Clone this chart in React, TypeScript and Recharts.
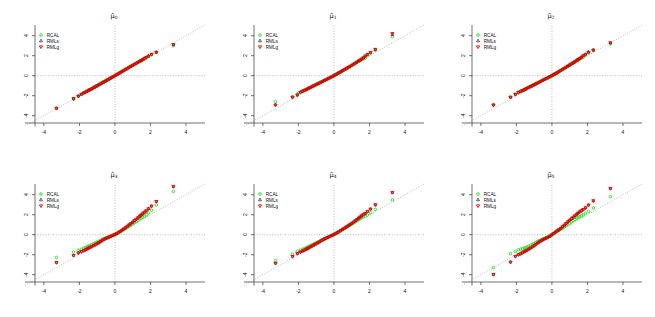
import React from "react";
import { ScatterChart, Scatter, XAxis, YAxis, ReferenceLine, Legend } from "recharts";

// theoretical normal quantiles (x of every panel)
const quantiles = [
  -3.29, -2.33, -2.06, -1.89, -1.76, -1.66, -1.56, -1.48, -1.4, -1.3, -1.2, -1.1, -1.0, -0.9, -0.8,
  -0.7, -0.6, -0.5, -0.4, -0.3, -0.2, -0.1, 0.0, 0.1, 0.2, 0.3, 0.4, 0.5, 0.6, 0.7, 0.8, 0.9, 1.0,
  1.1, 1.2, 1.3, 1.4, 1.48, 1.56, 1.66, 1.76, 1.89, 2.06, 2.33, 3.29,
];
const tickValues = [-4, -2, 0, 2, 4];
const estimators = ["RCAL", "RMLs", "RMLg"];
const subscripts = ["0", "1", "2", "3", "4", "5"];

// sample quantiles, one array per estimator and panel
const rcalMu0 = [-3.25, -2.35, -2.03, -1.85, -1.72, -1.63, -1.54, -1.46, -1.38, -1.29, -1.19, -1.09, -0.99, -0.89, -0.8, -0.7, -0.6, -0.5, -0.4, -0.3, -0.2, -0.1, 0.0, 0.1, 0.21, 0.31, 0.41, 0.52, 0.62, 0.73, 0.83, 0.93, 1.03, 1.13, 1.23, 1.33, 1.43, 1.51, 1.59, 1.69, 1.8, 1.93, 2.1, 2.32, 3.0];
const rmlsMu0 = [-3.26, -2.29, -2.05, -1.86, -1.73, -1.64, -1.55, -1.47, -1.39, -1.3, -1.2, -1.1, -1.0, -0.9, -0.8, -0.7, -0.6, -0.5, -0.4, -0.3, -0.2, -0.1, 0.0, 0.1, 0.21, 0.31, 0.42, 0.52, 0.63, 0.73, 0.84, 0.94, 1.04, 1.14, 1.24, 1.34, 1.45, 1.53, 1.62, 1.73, 1.84, 1.97, 2.14, 2.35, 3.11];
const rmlgMu0 = [-3.26, -2.28, -2.05, -1.86, -1.73, -1.64, -1.55, -1.47, -1.39, -1.3, -1.2, -1.1, -1.0, -0.9, -0.8, -0.7, -0.6, -0.5, -0.4, -0.3, -0.2, -0.1, 0.0, 0.1, 0.21, 0.31, 0.42, 0.52, 0.63, 0.73, 0.84, 0.94, 1.04, 1.14, 1.24, 1.34, 1.44, 1.52, 1.61, 1.72, 1.83, 1.96, 2.14, 2.35, 3.12];

const rcalMu1 = [-2.6, -2.08, -1.82, -1.62, -1.52, -1.44, -1.36, -1.29, -1.22, -1.13, -1.04, -0.95, -0.87, -0.78, -0.7, -0.61, -0.52, -0.44, -0.35, -0.26, -0.17, -0.08, 0.01, 0.1, 0.2, 0.3, 0.4, 0.5, 0.6, 0.7, 0.8, 0.9, 1.0, 1.11, 1.22, 1.33, 1.44, 1.52, 1.6, 1.68, 1.76, 2.02, 2.26, 2.55, 3.9];
const rmlsMu1 = [-2.92, -2.15, -1.93, -1.66, -1.55, -1.47, -1.39, -1.32, -1.25, -1.16, -1.07, -0.98, -0.89, -0.8, -0.72, -0.63, -0.54, -0.45, -0.36, -0.27, -0.18, -0.09, 0.01, 0.11, 0.21, 0.31, 0.41, 0.52, 0.62, 0.72, 0.83, 0.93, 1.04, 1.15, 1.26, 1.37, 1.48, 1.57, 1.66, 1.79, 1.96, 2.13, 2.33, 2.63, 4.1];
const rmlgMu1 = [-2.93, -2.16, -1.93, -1.66, -1.55, -1.47, -1.39, -1.32, -1.25, -1.16, -1.07, -0.98, -0.89, -0.8, -0.72, -0.63, -0.54, -0.45, -0.36, -0.27, -0.18, -0.09, 0.01, 0.11, 0.21, 0.31, 0.41, 0.52, 0.62, 0.72, 0.83, 0.93, 1.04, 1.15, 1.26, 1.37, 1.49, 1.58, 1.67, 1.8, 1.97, 2.14, 2.34, 2.64, 4.22];

const rcalMu2 = [-2.9, -2.12, -1.84, -1.64, -1.54, -1.46, -1.38, -1.31, -1.24, -1.15, -1.06, -0.98, -0.89, -0.8, -0.71, -0.62, -0.53, -0.44, -0.35, -0.26, -0.17, -0.08, 0.01, 0.1, 0.2, 0.3, 0.41, 0.51, 0.62, 0.72, 0.83, 0.93, 1.04, 1.14, 1.25, 1.36, 1.47, 1.56, 1.65, 1.75, 1.84, 2.05, 2.28, 2.52, 3.17];
const rmlsMu2 = [-2.93, -2.16, -1.87, -1.67, -1.57, -1.49, -1.41, -1.34, -1.26, -1.17, -1.08, -0.99, -0.9, -0.81, -0.72, -0.63, -0.54, -0.45, -0.36, -0.27, -0.18, -0.08, 0.01, 0.11, 0.21, 0.31, 0.42, 0.53, 0.64, 0.75, 0.86, 0.97, 1.08, 1.19, 1.3, 1.42, 1.54, 1.63, 1.72, 1.85, 2.0, 2.15, 2.4, 2.57, 3.29];
const rmlgMu2 = [-2.93, -2.16, -1.87, -1.67, -1.57, -1.49, -1.41, -1.34, -1.26, -1.17, -1.08, -0.99, -0.9, -0.81, -0.72, -0.63, -0.54, -0.45, -0.36, -0.27, -0.18, -0.08, 0.01, 0.11, 0.21, 0.31, 0.42, 0.53, 0.64, 0.75, 0.86, 0.97, 1.08, 1.19, 1.3, 1.42, 1.54, 1.63, 1.72, 1.85, 2.0, 2.14, 2.34, 2.57, 3.3];

const rcalMu3 = [-2.28, -1.74, -1.57, -1.45, -1.36, -1.28, -1.2, -1.13, -1.06, -0.98, -0.9, -0.81, -0.73, -0.64, -0.55, -0.46, -0.38, -0.31, -0.24, -0.17, -0.11, -0.05, 0.01, 0.09, 0.19, 0.29, 0.39, 0.5, 0.61, 0.72, 0.83, 0.95, 1.07, 1.19, 1.31, 1.43, 1.56, 1.65, 1.75, 1.86, 1.98, 2.17, 2.45, 2.97, 4.33];
const rmlsMu3 = [-2.78, -2.07, -1.82, -1.68, -1.58, -1.5, -1.41, -1.34, -1.27, -1.18, -1.08, -0.99, -0.89, -0.79, -0.68, -0.56, -0.46, -0.37, -0.29, -0.21, -0.14, -0.06, 0.02, 0.12, 0.23, 0.34, 0.46, 0.58, 0.71, 0.85, 0.99, 1.12, 1.26, 1.41, 1.55, 1.7, 1.86, 1.98, 2.1, 2.25, 2.4, 2.6, 2.86, 3.31, 4.8];
const rmlgMu3 = [-2.78, -2.07, -1.82, -1.68, -1.58, -1.5, -1.41, -1.34, -1.27, -1.18, -1.08, -0.99, -0.89, -0.79, -0.68, -0.56, -0.46, -0.37, -0.29, -0.21, -0.14, -0.06, 0.02, 0.12, 0.23, 0.34, 0.46, 0.58, 0.71, 0.85, 0.99, 1.12, 1.26, 1.41, 1.55, 1.7, 1.86, 1.98, 2.1, 2.25, 2.4, 2.6, 2.87, 3.33, 4.83];

const rcalMu4 = [-2.6, -1.95, -1.67, -1.55, -1.46, -1.38, -1.3, -1.23, -1.16, -1.08, -0.99, -0.9, -0.82, -0.73, -0.64, -0.55, -0.46, -0.38, -0.3, -0.22, -0.14, -0.06, 0.02, 0.11, 0.21, 0.31, 0.41, 0.52, 0.62, 0.73, 0.84, 0.95, 1.06, 1.17, 1.29, 1.4, 1.52, 1.61, 1.7, 1.79, 1.85, 1.97, 2.2, 2.53, 3.47];
const rmlsMu4 = [-2.85, -2.16, -1.88, -1.74, -1.63, -1.54, -1.45, -1.38, -1.3, -1.2, -1.1, -1.0, -0.9, -0.8, -0.7, -0.58, -0.49, -0.4, -0.31, -0.23, -0.15, -0.06, 0.02, 0.12, 0.22, 0.33, 0.44, 0.55, 0.66, 0.78, 0.89, 1.01, 1.13, 1.26, 1.39, 1.53, 1.67, 1.78, 1.9, 2.03, 2.13, 2.32, 2.56, 2.98, 4.2];
const rmlgMu4 = [-2.86, -2.17, -1.88, -1.74, -1.63, -1.54, -1.45, -1.38, -1.3, -1.2, -1.1, -1.0, -0.9, -0.8, -0.7, -0.58, -0.49, -0.4, -0.31, -0.23, -0.15, -0.06, 0.02, 0.12, 0.22, 0.33, 0.44, 0.55, 0.66, 0.78, 0.89, 1.01, 1.13, 1.26, 1.39, 1.53, 1.67, 1.78, 1.9, 2.03, 2.13, 2.33, 2.57, 3.0, 4.23];

const rcalMu5 = [-3.3, -1.9, -1.67, -1.52, -1.45, -1.4, -1.34, -1.29, -1.23, -1.15, -1.06, -0.97, -0.88, -0.78, -0.68, -0.58, -0.5, -0.42, -0.34, -0.26, -0.18, -0.1, 0.0, 0.11, 0.22, 0.33, 0.43, 0.54, 0.65, 0.77, 0.89, 1.02, 1.15, 1.28, 1.41, 1.53, 1.65, 1.73, 1.81, 1.9, 1.98, 2.13, 2.32, 2.67, 3.8];
const rmlsMu5 = [-4.0, -2.73, -2.16, -2.0, -1.9, -1.8, -1.7, -1.62, -1.55, -1.44, -1.33, -1.22, -1.1, -0.96, -0.83, -0.71, -0.6, -0.5, -0.41, -0.33, -0.24, -0.14, 0.0, 0.13, 0.26, 0.39, 0.52, 0.65, 0.8, 0.96, 1.12, 1.29, 1.45, 1.6, 1.75, 1.9, 2.05, 2.16, 2.28, 2.4, 2.52, 2.69, 2.96, 3.38, 4.6];
const rmlgMu5 = [-3.97, -2.74, -2.17, -2.0, -1.9, -1.8, -1.7, -1.62, -1.55, -1.44, -1.33, -1.22, -1.1, -0.96, -0.83, -0.71, -0.6, -0.5, -0.41, -0.33, -0.24, -0.14, 0.0, 0.13, 0.26, 0.39, 0.52, 0.65, 0.8, 0.96, 1.12, 1.29, 1.45, 1.6, 1.75, 1.9, 2.05, 2.16, 2.28, 2.4, 2.52, 2.7, 2.97, 3.4, 4.63];

const GREEN = "#22e022";
const RED = "#ee0000";
const BLACK = "#000000";
const GRID = "#9a9a9a";
const FONT = "'Liberation Sans', Arial, sans-serif";

const toPoints = (ys: number[]) => quantiles.map((x, i) => ({ x, y: ys[i] }));

const marker = (name: string, cx: number, cy: number, s = 1) => {
  if (name === "RCAL") {
    return <circle cx={cx} cy={cy} r={1.3 * s} fill="none" stroke={GREEN} strokeWidth={0.9} />;
  }
  if (name === "RMLs") {
    return (
      <path
        d={`M${cx},${cy - 1.4 * s}L${cx + 1.2 * s},${cy + 0.75 * s}L${cx - 1.2 * s},${cy + 0.75 * s}Z`}
        fill="none"
        stroke={BLACK}
        strokeWidth={0.6}
      />
    );
  }
  return (
    <path
      d={`M${cx},${cy + 1.8 * s}L${cx + 1.6 * s},${cy - 0.95 * s}L${cx - 1.6 * s},${cy - 0.95 * s}Z`}
      fill="none"
      stroke={RED}
      strokeWidth={0.9}
    />
  );
};

const shapeFor = (name: string) => (p: any) => marker(name, p.cx, p.cy);

const renderLegend = () => (
  <svg width={40} height={20} style={{ display: "block" }}>
    {estimators.map((name, i) => (
      <g key={name}>
        {marker(name, 3, 3 + i * 5.9, name === "RMLs" ? 1.25 : 1)}
        <text x={8.7} y={4.7 + i * 5.9} fontSize={4.7} fontFamily={FONT} fill="#111">
          {name}
        </text>
      </g>
    ))}
  </svg>
);

const YTick = (props: any) => {
  const { x, y, payload } = props;
  return (
    <text
      x={x}
      y={y}
      transform={`rotate(-90 ${x} ${y})`}
      textAnchor="middle"
      fontSize={5}
      fontFamily={FONT}
      fill="#111"
    >
      {payload.value}
    </text>
  );
};

const dotted = { stroke: GRID, strokeWidth: 0.7, strokeDasharray: "1 1.6" };
const axisStroke = { stroke: "#333", strokeWidth: 0.7 };

function Panel({ sub, rcal, rmls, rmlg, left, top }: any) {
  return (
    <div style={{ position: "absolute", left, top, width: 218, height: 158 }}>
      <ScatterChart width={218} height={158} margin={{ top: 25, right: 13, bottom: 15, left: 20 }}>
        <XAxis
          type="number"
          dataKey="x"
          domain={[-4.5, 5.07]}
          ticks={tickValues}
          interval={0}
          allowDataOverflow
          axisLine={false}
          tickLine={axisStroke}
          tickSize={3}
          tickMargin={4.5}
          height={20}
          tick={{ fontSize: 5, fill: "#111", fontFamily: FONT }}
        />
        <YAxis
          type="number"
          dataKey="y"
          domain={[-4.73, 5.07]}
          ticks={tickValues}
          interval={0}
          allowDataOverflow
          axisLine={false}
          tickLine={axisStroke}
          tickSize={3}
          tickMargin={3.5}
          width={15}
          tick={<YTick />}
        />
        <ReferenceLine x={0} {...dotted} />
        <ReferenceLine y={0} {...dotted} />
        <ReferenceLine
          segment={[{ x: -5.07, y: -5.07 }, { x: 5.07, y: 5.07 }]}
          ifOverflow="visible"
          {...dotted}
        />
        <ReferenceLine
          segment={[{ x: -5.07, y: -4.73 }, { x: 5.07, y: -4.73 }]}
          ifOverflow="visible"
          {...axisStroke}
        />
        <ReferenceLine
          segment={[{ x: -4.5, y: -5.1 }, { x: -4.5, y: 5.07 }]}
          ifOverflow="visible"
          {...axisStroke}
        />
        <Scatter name="RCAL" data={toPoints(rcal)} fill={GREEN} shape={shapeFor("RCAL")} isAnimationActive={false} />
        <Scatter name="RMLs" data={toPoints(rmls)} fill={BLACK} shape={shapeFor("RMLs")} isAnimationActive={false} />
        <Scatter name="RMLg" data={toPoints(rmlg)} fill={RED} shape={shapeFor("RMLg")} isAnimationActive={false} />
        <Legend
          content={renderLegend}
          layout="horizontal"
          verticalAlign="middle"
          align="center"
          wrapperStyle={{ left: 38, top: 32, width: 40, height: 20 }}
        />
      </ScatterChart>
      <svg width={218} height={24} style={{ position: "absolute", left: 0, top: 0 }}>
        <text x={110.6} y={17.6} fontSize={6.6} fontFamily="'DejaVu Sans', sans-serif" fill="#111">
          {"\u03bc\u0302"}
          <tspan fontSize={4.4} dy={1.3}>
            {sub}
          </tspan>
        </text>
      </svg>
    </div>
  );
}

const panels = [
  { sub: subscripts[0], rcal: rcalMu0, rmls: rmlsMu0, rmlg: rmlgMu0 },
  { sub: subscripts[1], rcal: rcalMu1, rmls: rmlsMu1, rmlg: rmlgMu1 },
  { sub: subscripts[2], rcal: rcalMu2, rmls: rmlsMu2, rmlg: rmlgMu2 },
  { sub: subscripts[3], rcal: rcalMu3, rmls: rmlsMu3, rmlg: rmlgMu3 },
  { sub: subscripts[4], rcal: rcalMu4, rmls: rmlsMu4, rmlg: rmlgMu4 },
  { sub: subscripts[5], rcal: rcalMu5, rmls: rmlsMu5, rmlg: rmlgMu5 },
];

export default function App() {
  return (
    <div style={{ position: "absolute", left: 0, top: 0, width: 655, height: 317, background: "#fff" }}>
      {panels.map((p, i) => (
        <Panel key={p.sub} {...p} left={(i % 3) * 218.6} top={Math.floor(i / 3) * 158.6} />
      ))}
    </div>
  );
}
